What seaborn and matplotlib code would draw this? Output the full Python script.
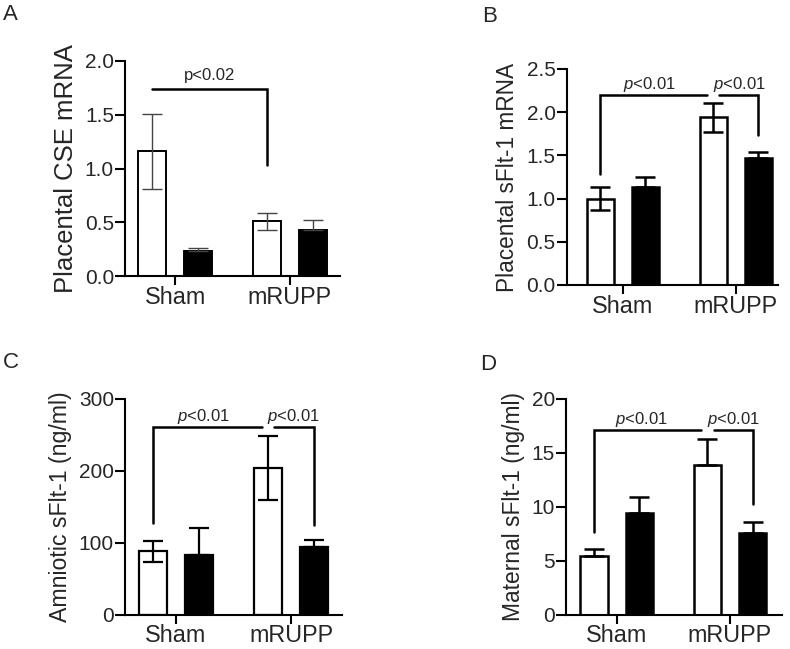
import matplotlib
matplotlib.use("Agg")
import matplotlib.pyplot as plt
import matplotlib.transforms as mtransforms
from matplotlib.ticker import FormatStrFormatter
import pandas as pd
import seaborn as sns

# ---------------- data ----------------
groups = ["Sham", "mRUPP"]
treatments = ["Vehicle", "Treated"]

# A: placental CSE mRNA
cse_vehicle = [1.16, 0.51]
cse_vehicle_sem = [0.35, 0.08]
cse_treated = [0.23, 0.43]
cse_treated_sem = [0.035, 0.09]

# B: placental sFlt-1 mRNA
psflt_vehicle = [1.00, 1.94]
psflt_vehicle_sem = [0.13, 0.17]
psflt_treated = [1.13, 1.47]
psflt_treated_sem = [0.12, 0.07]

# C: amniotic sFlt-1 (ng/ml)
asflt_vehicle = [88, 204]
asflt_vehicle_sem = [15, 44]
asflt_treated = [83, 94]
asflt_treated_sem = [38, 10]

# D: maternal sFlt-1 (ng/ml)
msflt_vehicle = [5.4, 13.9]
msflt_vehicle_sem = [0.7, 2.4]
msflt_treated = [9.4, 7.6]
msflt_treated_sem = [1.55, 1.0]

ylabels = ["Placental CSE mRNA", "Placental sFlt-1 mRNA",
           "Amniotic sFlt-1 (ng/ml)", "Maternal sFlt-1 (ng/ml)"]
panel_letters = ["A", "B", "C", "D"]
p_text_a = "p<0.02"
p_text = "$p$<0.01"

# ---------------- style ----------------
sns.set_style("ticks")
plt.rcParams["font.family"] = ["Liberation Sans", "DejaVu Sans"]
plt.rcParams["mathtext.fontset"] = "custom"
plt.rcParams["mathtext.it"] = "Liberation Sans:italic"
plt.rcParams["mathtext.rm"] = "Liberation Sans"

W, H = 790, 649
fig = plt.figure(figsize=(W / 100, H / 100), dpi=100)


def add_ax(left, top, right, bottom):
    return fig.add_axes([left / W, 1 - bottom / H, (right - left) / W, (bottom - top) / H])


panels = [
    dict(ax=add_ax(125, 61, 340, 276), vals=(cse_vehicle, cse_treated),
         sems=(cse_vehicle_sem, cse_treated_sem), ylim=2.0, step=0.5, fmt="%.1f",
         xlim=(-0.435, 1.435), open_low=True, ecolor="#444444", elw=1.0, bar_lw=1.4,
         ylsize=18.5),
    dict(ax=add_ax(566.7, 69, 778, 285), vals=(psflt_vehicle, psflt_treated),
         sems=(psflt_vehicle_sem, psflt_treated_sem), ylim=2.5, step=0.5, fmt="%.1f",
         xlim=(-0.496, 1.374), open_low=True, ecolor="black", elw=1.8, bar_lw=1.8,
         ylsize=16.3),
    dict(ax=add_ax(125, 399, 342, 614.5), vals=(asflt_vehicle, asflt_treated),
         sems=(asflt_vehicle_sem, asflt_treated_sem), ylim=300, step=100, fmt="%d",
         xlim=(-0.443, 1.443), open_low=True, ecolor="black", elw=1.6, bar_lw=1.6,
         ylsize=16.7),
    dict(ax=add_ax(566, 399, 782, 614.5), vals=(msflt_vehicle, msflt_treated),
         sems=(msflt_vehicle_sem, msflt_treated_sem), ylim=20, step=5, fmt="%d",
         xlim=(-0.447, 1.459), open_low=False, ecolor="black", elw=1.8, bar_lw=1.8,
         ylsize=16.4),
]

colors = {"Vehicle": "white", "Treated": "black"}

bar_centers = []
for i, p in enumerate(panels):
    ax = p["ax"]
    veh, trt = p["vals"]
    df = pd.DataFrame({
        "group": groups * 2,
        "treatment": [treatments[0]] * 2 + [treatments[1]] * 2,
        "value": list(veh) + list(trt),
    })
    sns.barplot(data=df, x="group", y="value", hue="treatment", order=groups,
                hue_order=treatments, palette=colors, edgecolor="black",
                linewidth=p["bar_lw"], errorbar=None, width=0.8, gap=0.4,
                legend=False, ax=ax, zorder=2)
    centers = {}
    for k, hue in enumerate(treatments):
        bars = ax.containers[k]
        xs = [b.get_x() + b.get_width() / 2 for b in bars]
        centers[hue] = xs
        means = p["vals"][k]
        sem = p["sems"][k]
        low = sem if (k == 0 and p["open_low"]) else [0] * len(sem)
        ax.errorbar(xs, means, yerr=[low, sem], fmt="none", ecolor=p["ecolor"],
                    elinewidth=p["elw"], capsize=7, capthick=p["elw"], zorder=3)
    bar_centers.append(centers)

    ax.set_xlim(*p["xlim"])
    ax.set_ylim(0, p["ylim"])
    n = int(round(p["ylim"] / p["step"]))
    ax.set_yticks([p["step"] * j for j in range(n + 1)])
    ax.yaxis.set_major_formatter(FormatStrFormatter(p["fmt"]))
    ax.set_xlabel("")
    ax.set_ylabel(ylabels[i], fontsize=p["ylsize"], labelpad=5)
    sns.despine(ax=ax)
    for s in ("left", "bottom"):
        ax.spines[s].set_linewidth(1.5)
        ax.spines[s].set_color("black")
    ax.tick_params(axis="y", labelsize=15, width=1.5, length=7, pad=1, color="black")
    ax.tick_params(axis="x", labelsize=16.8, width=1.5, length=6.5, pad=0.5, color="black")
    ax.set_facecolor("none")

# ---------------- significance brackets (annotations) ----------------
LW = 1.8
GAP = 0.055


def text_above(ax, x, y, s, pts):
    tr = mtransforms.offset_copy(ax.transData, fig=fig, x=0, y=pts, units="points")
    ax.text(x, y, s, transform=tr, ha="center", va="baseline", fontsize=12)


# A
ax = panels[0]["ax"]
c = bar_centers[0]
ax.plot([c["Vehicle"][0], c["Vehicle"][1], c["Vehicle"][1]], [1.74, 1.74, 1.03],
        color="black", lw=LW, clip_on=False, solid_joinstyle="miter")
text_above(ax, 0.30, 1.74, p_text_a, 6.5)

# B, C, D
bracket_specs = [
    (1, 2.2, 1.28, 1.74, 0.24, 1.03),
    (2, 261.5, 128, 125, 0.24, 1.02),
    (3, 17.16, 7.7, 10.26, 0.22, 1.03),
]
for idx, yl, left_bottom, right_bottom, tx1, tx2 in bracket_specs:
    ax = panels[idx]["ax"]
    c = bar_centers[idx]
    xw_s, xw_m = c["Vehicle"]
    xb_m = c["Treated"][1]
    ax.plot([xw_s, xw_s, xw_m - GAP], [left_bottom, yl, yl], color="black", lw=LW,
            clip_on=False, solid_joinstyle="miter")
    ax.plot([xw_m + GAP, xb_m, xb_m], [yl, yl, right_bottom], color="black", lw=LW,
            clip_on=False, solid_joinstyle="miter")
    text_above(ax, tx1, yl, p_text, 4.3)
    text_above(ax, tx2, yl, p_text, 4.3)

# ---------------- panel letters ----------------
for letter, (x, y) in zip(panel_letters, [(3, 4), (482, 6), (3, 352), (480, 354)]):
    fig.text(x / W, 1 - y / H, letter, fontsize=16, ha="left", va="top")

fig.savefig("out.png", dpi=100)
